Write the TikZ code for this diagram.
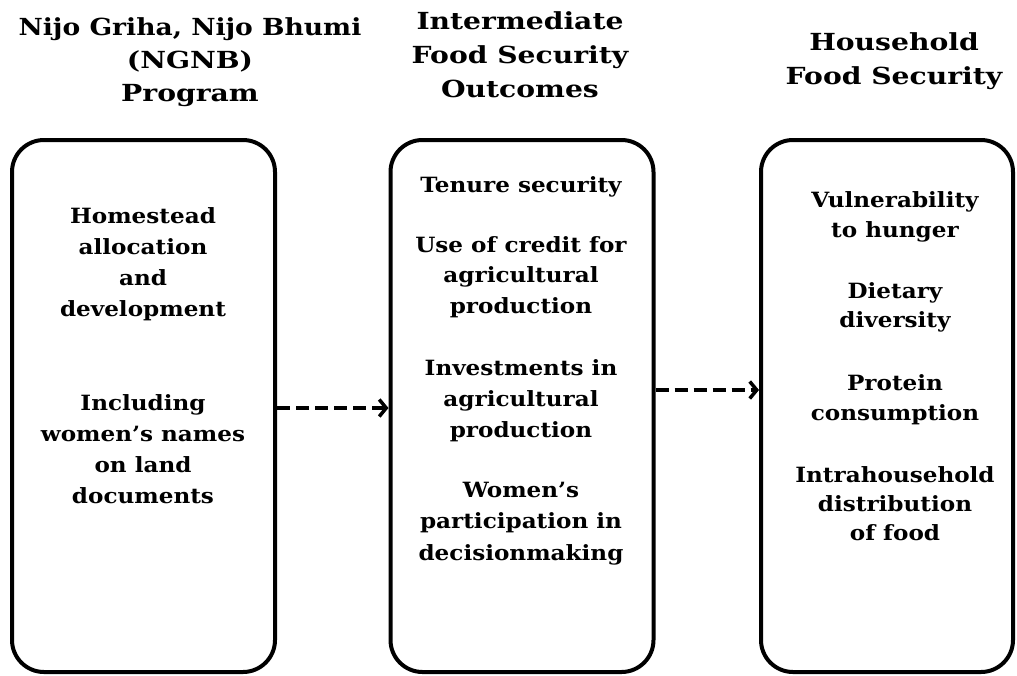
\documentclass[tikz,border=0pt]{standalone}
\usepackage{fontspec}
\setmainfont{DejaVu Serif}
\usetikzlibrary{arrows.meta}
\newcommand{\titlex}[1]{\scalebox{1.2}[1]{#1}}
\newcommand{\bodyx}[1]{\scalebox{1.1}[1]{#1}}
\begin{document}
\begin{tikzpicture}[x=1pt,y=-1pt,
  box/.style={draw=black, line width=4pt, rounded corners=32pt, minimum width=263pt, minimum height=532pt, inner sep=0pt},
  ttl/.style={font=\fontsize{23.5}{28}\selectfont\bfseries, text=black, inner sep=0pt, anchor=base},
  txt/.style={font=\fontsize{21}{25}\selectfont\bfseries, text=black, inner sep=0pt, anchor=base},
  arr/.style={line width=3.5pt, dash pattern=on 13pt off 6pt, -{Straight Barb[length=7pt,width=17pt]}}]
\useasboundingbox (0,0) rectangle (1017,675);
% titles
\node[ttl] (ta1) at (190,35) {\scalebox{1.13}[1]{Nijo Griha, Nijo Bhumi}};
\node[ttl] (ta2) at (190,68) {\titlex{(NGNB)}};
\node[ttl] (ta3) at (190,101) {\titlex{Program}};
\foreach \t [count=\i] in {Intermediate,Food Security,Outcomes}
  \node[ttl] (tb\i) at (520,{29+34*(\i-1)}) {\titlex{\t}};
\foreach \t [count=\i] in {Household,Food Security}
  \node[ttl] (tc\i) at (894,{50+34*(\i-1)}) {\titlex{\t}};
% boxes
\node[box] (b1) at (143.5,406) {};
\node[box] (b2) at (522,406) {};
\node[box, minimum width=252pt] (b3) at (887,406) {};
% box 1 text
\foreach \t [count=\i] in {Homestead,allocation,and,development}
  \node[txt] (h\i) at (143,{223+31*(\i-1)}) {\bodyx{\t}};
\foreach \t [count=\i] in {Including,women’s names,on land,documents}
  \node[txt] (w\i) at (143,{410+31*(\i-1)}) {\bodyx{\t}};
% box 2 text
\node[txt] (s1) at (521,192) {\bodyx{Tenure security}};
\foreach \t [count=\i] in {Use of credit for,agricultural,production}
  \node[txt] (c\i) at (521,{252+30.5*(\i-1)}) {\bodyx{\t}};
\foreach \t [count=\i] in {Investments in,agricultural,production}
  \node[txt] (v\i) at (521,{375+31*(\i-1)}) {\bodyx{\t}};
\foreach \t [count=\i] in {Women’s,participation in,decisionmaking}
  \node[txt] (p\i) at (521,{497+31.5*(\i-1)}) {\bodyx{\t}};
% box 3 text
\foreach \t [count=\i] in {Vulnerability,to hunger}
  \node[txt] (u\i) at (895,{207+30*(\i-1)}) {\bodyx{\t}};
\foreach \t [count=\i] in {Dietary,diversity}
  \node[txt] (d\i) at (895,{298+29.5*(\i-1)}) {\bodyx{\t}};
\foreach \t [count=\i] in {Protein,consumption}
  \node[txt] (r\i) at (895,{390+30*(\i-1)}) {\bodyx{\t}};
\foreach \t [count=\i] in {Intrahousehold,distribution,of food}
  \node[txt] (f\i) at (895,{482+29*(\i-1)}) {\bodyx{\t}};
% arrows
\draw[arr] ([yshift=-2pt]b1.east) -- ([yshift=-2pt]b2.west);
\draw[arr] ([yshift=16pt]b2.east) -- ([yshift=16pt]b3.west);
\end{tikzpicture}
\end{document}
